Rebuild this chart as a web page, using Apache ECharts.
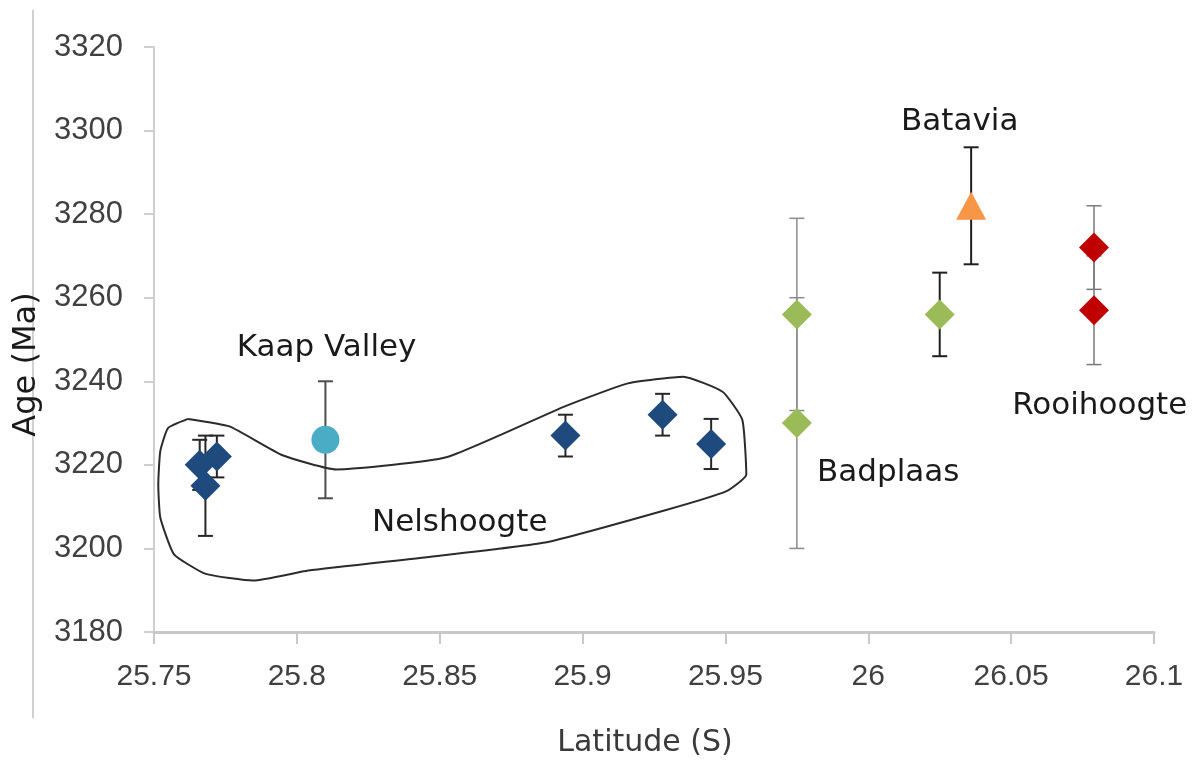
<!DOCTYPE html>
<html>
<head>
<meta charset="utf-8">
<script src="https://cdn.jsdelivr.net/npm/echarts@6/dist/echarts.min.js"></script>
<style>
  html, body { margin: 0; padding: 0; background: #fff; }
  #chart { width: 1192px; height: 763px; }
</style>
</head>
<body>
<div id="chart"></div>
<script>
// latitude (S), age (Ma) and +/- error for each group
const nelLat = [25.766, 25.768, 25.772, 25.894, 25.928, 25.945];
const nelAge = [3220, 3215, 3222, 3227, 3232, 3225];
const nelErr = [6, 12, 5, 5, 5, 6];

const kaapLat = [25.810];
const kaapAge = [3226];
const kaapErr = [14];

const badALat = [25.975, 25.975];
const badAAge = [3256, 3230];
const badAErr = [23, 30];

const badBLat = [26.025];
const badBAge = [3256];
const badBErr = [10];

const batLat = [26.036];
const batAge = [3282];
const batErr = [14];

const rooiLat = [26.079, 26.079];
const rooiAge = [3272, 3257];
const rooiErr = [10, 13];

// hand-drawn outline round the Nelshoogte samples (lat, age)
const outlineLat = [25.7619, 25.7764, 25.7950, 25.8137, 25.8523, 25.8938, 25.9159, 25.9352, 25.9490,
  25.9559, 25.9573, 25.9504, 25.9283, 25.8869, 25.8454, 25.8040, 25.7847, 25.7681, 25.7570,
  25.7522, 25.7515, 25.7522, 25.7549, 25.7619];
const outlineAge = [3231.0, 3229.2, 3222.3, 3218.9, 3221.8, 3234.0, 3239.5, 3241.1, 3237.5,
  3230.8, 3217.7, 3213.7, 3209.0, 3201.4, 3197.9, 3194.7, 3192.3, 3193.9, 3198.6,
  3207.4, 3215.3, 3223.3, 3228.8, 3231.0];

// text annotations
const labelNames = ['Kaap Valley', 'Nelshoogte', 'Badplaas', 'Batavia', 'Rooihoogte'];
const labelLat = [25.8104, 25.857, 26.007, 26.032, 26.081];
const labelAge = [3248, 3206, 3218, 3302, 3234];

const xTicks = { min: 25.75, max: 26.1, interval: 0.05 };
const yTicks = { min: 3180, max: 3320, interval: 20 };

const chart = echarts.init(document.getElementById('chart'));

const pts = (lat, age) => lat.map((x, i) => [x, age[i]]);
const bars = (lat, age, err) => lat.map((x, i) => [x, age[i] - err[i], age[i] + err[i]]);

function errorBar(color, width) {
  return function (params, api) {
    const x = api.value(0);
    const lo = api.coord([x, api.value(1)]);
    const hi = api.coord([x, api.value(2)]);
    const cap = 7.5;
    const style = { stroke: color, lineWidth: width };
    return {
      type: 'group',
      children: [
        { type: 'line', shape: { x1: hi[0], y1: hi[1], x2: lo[0], y2: lo[1] }, style },
        { type: 'line', shape: { x1: hi[0] - cap, y1: hi[1], x2: hi[0] + cap, y2: hi[1] }, style },
        { type: 'line', shape: { x1: lo[0] - cap, y1: lo[1], x2: lo[0] + cap, y2: lo[1] }, style }
      ]
    };
  };
}

function errSeries(lat, age, err, color, width) {
  return {
    type: 'custom',
    renderItem: errorBar(color, width),
    encode: { x: 0, y: [1, 2] },
    data: bars(lat, age, err),
    z: 3,
    silent: true
  };
}

function markSeries(lat, age, symbol, size, color) {
  return {
    type: 'scatter',
    symbol: symbol,
    symbolSize: size,
    itemStyle: { color: color, opacity: 1 },
    data: pts(lat, age),
    z: 5
  };
}

const option = {
  animation: false,
  backgroundColor: '#fff',
  grid: { left: 154, right: 38, top: 47, bottom: 128, containLabel: false },
  xAxis: {
    type: 'value',
    min: xTicks.min,
    max: xTicks.max,
    interval: xTicks.interval,
    name: 'Latitude (S)',
    nameLocation: 'middle',
    nameGap: 96,
    nameTextStyle: { fontFamily: 'DejaVu Sans', fontSize: 30, color: '#3a3a3a', padding: [0, 18, 0, 0] },
    axisLine: { lineStyle: { color: '#c8c8c8', width: 3 } },
    axisTick: { show: true, length: 12, lineStyle: { color: '#c8c8c8', width: 2 } },
    axisLabel: { fontFamily: 'Liberation Sans', fontSize: 30, color: '#404040', margin: 30 },
    splitLine: { show: false }
  },
  yAxis: {
    type: 'value',
    min: yTicks.min,
    max: yTicks.max,
    interval: yTicks.interval,
    name: 'Age (Ma)',
    nameLocation: 'middle',
    nameGap: 102,
    nameTextStyle: { fontFamily: 'DejaVu Sans', fontSize: 32, color: '#1a1a1a', padding: [0, 50, 0, 0] },
    axisLine: { show: true, lineStyle: { color: '#cfcfcf', width: 2 } },
    axisTick: { show: true, length: 10, lineStyle: { color: '#cfcfcf', width: 2 } },
    axisLabel: {
      fontFamily: 'Liberation Sans', fontSize: 31, color: '#404040', margin: 31,
      formatter: (v) => String(v)
    },
    splitLine: { show: false }
  },
  graphic: [
    { type: 'line', shape: { x1: 33, y1: 10, x2: 33, y2: 718 }, style: { stroke: '#d0d0d0', lineWidth: 2 }, z: -1 }
  ],
  series: [
    {
      type: 'line',
      data: pts(outlineLat, outlineAge),
      smooth: 0.15,
      symbol: 'none',
      lineStyle: { color: '#2b2b2b', width: 2 },
      z: 4,
      silent: true
    },
    errSeries(nelLat, nelAge, nelErr, '#262626', 2),
    errSeries(kaapLat, kaapAge, kaapErr, '#4d4d4d', 2),
    errSeries(badALat, badAAge, badAErr, '#8c8c8c', 1.5),
    errSeries(badBLat, badBAge, badBErr, '#1f1f1f', 2),
    errSeries(batLat, batAge, batErr, '#1f1f1f', 2),
    errSeries(rooiLat, rooiAge, rooiErr, '#7a7a7a', 1.5),
    markSeries(nelLat, nelAge, 'diamond', 30, '#1f4a7e'),
    markSeries(kaapLat, kaapAge, 'circle', 28, '#4bacc6'),
    markSeries(badALat, badAAge, 'diamond', 30, '#9bbb59'),
    markSeries(badBLat, badBAge, 'diamond', 30, '#9bbb59'),
    markSeries(batLat, batAge, 'triangle', [30, 28], '#f79646'),
    markSeries(rooiLat, rooiAge, 'diamond', 30, '#c00000'),
    {
      type: 'custom',
      data: labelLat.map((x, i) => [x, labelAge[i], i]),
      encode: { x: 0, y: 1 },
      z: 6,
      silent: true,
      renderItem: function (params, api) {
        const p = api.coord([api.value(0), api.value(1)]);
        return {
          type: 'text',
          x: p[0],
          y: p[1],
          style: {
            text: labelNames[api.value(2)],
            fontFamily: 'DejaVu Sans',
            fontSize: 31,
            fill: '#1a1a1a',
            align: 'center',
            verticalAlign: 'middle'
          }
        };
      }
    }
  ]
};

chart.setOption(option);
</script>
</body>
</html>
